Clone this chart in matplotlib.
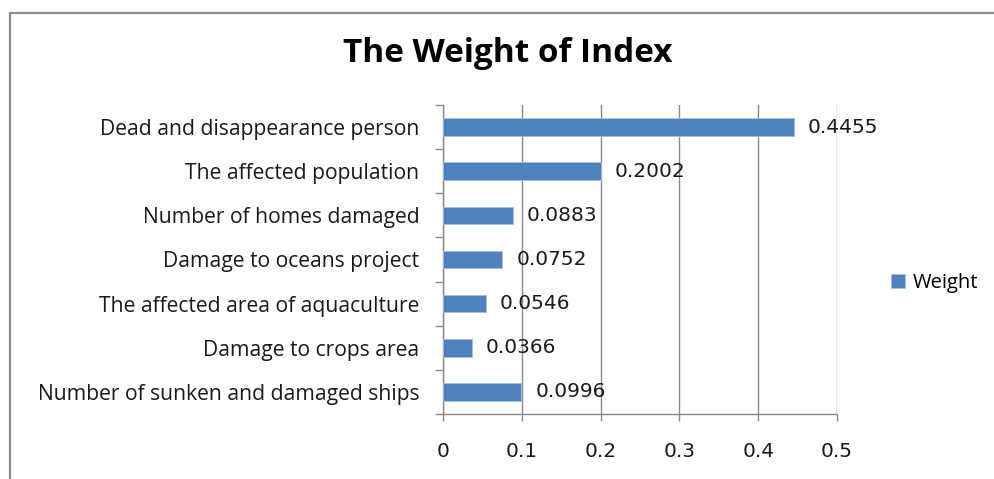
import matplotlib
matplotlib.use("Agg")
import matplotlib.pyplot as plt
from matplotlib.patches import Rectangle
import numpy as np

categories = [
    "Dead and disappearance person",
    "The affected population",
    "Number of homes damaged",
    "Damage to oceans project",
    "The affected area of aquaculture",
    "Damage to crops area",
    "Number of sunken and damaged ships",
]
weights = [0.4455, 0.2002, 0.0883, 0.0752, 0.0546, 0.0366, 0.0996]
labels = ["0.4455", "0.2002", "0.0883", "0.0752", "0.0546", "0.0366", "0.0996"]
xticks = [0, 0.1, 0.2, 0.3, 0.4, 0.5]
xticklabels = ["0", "0.1", "0.2", "0.3", "0.4", "0.5"]
title = "The Weight of Index"
series_name = "Weight"

W, H = 994, 479
fig = plt.figure(figsize=(W / 100, H / 100), dpi=100)
fig.patch.set_facecolor("white")

# outer chart border (extends beyond right/bottom edges)
fig.patches.append(Rectangle((10 / W, -0.1), 1.2, (H - 13) / H + 0.1,
                             transform=fig.transFigure, fill=False,
                             edgecolor="#8c8c8c", linewidth=1.6, zorder=0))

ax = fig.add_axes([443 / W, 1 - 414 / H, 394 / W, 309 / H])
n = len(categories)
ypos = np.arange(n)
bar_color = "#4F81BD"
bars = ax.barh(ypos, weights, height=0.4, color=bar_color, edgecolor="#a9c1e0",
               linewidth=0.6, label=series_name, zorder=3)
ax.set_ylim(n - 0.5, -0.5)
ax.set_xlim(0, 0.5)

grid_c = "#8a8a8a"
txt_c = "#1a1a1a"
for s in ["top", "right"]:
    ax.spines[s].set_visible(False)
for s in ["left", "bottom"]:
    ax.spines[s].set_color(grid_c)
    ax.spines[s].set_linewidth(1.0)

ax.set_xticks(xticks)
ax.set_xticklabels(xticklabels, fontsize=14.5, family="DejaVu Sans", color=txt_c)
ax.tick_params(axis="x", direction="out", length=5.3, width=1.0, color=grid_c, pad=15)
ax.xaxis.grid(True, color=grid_c, linewidth=1.0, zorder=0)
ax.set_axisbelow(True)

ax.set_yticks(ypos)
ax.set_yticklabels(categories, fontsize=15.2, family="Open Sans", color=txt_c)
ax.tick_params(axis="y", which="major", length=0, pad=17)
ax.set_yticks(np.arange(n + 1) - 0.5, minor=True)
ax.tick_params(axis="y", which="minor", length=6, width=1.0, color=grid_c, direction="out")

for b, lab in zip(bars, labels):
    ax.annotate(lab, (b.get_width(), b.get_y() + b.get_height() / 2),
                xytext=(10, 0), textcoords="offset points",
                va="center", ha="left", fontsize=14.5, family="DejaVu Sans",
                color=txt_c, zorder=5)

fig.text(508 / W, 1 - 54 / H, title, ha="center", va="center",
         fontsize=24, fontweight="bold", family="Open Sans", color="black")

fig.legend(handles=[bars], labels=[series_name], loc="center left",
           bbox_to_anchor=(891 / W, 1 - 283 / H), frameon=False,
           prop={"family": "Open Sans", "size": 14.5},
           handlelength=0.7, handleheight=0.7, handletextpad=0.4,
           borderpad=0, borderaxespad=0)

fig.savefig("out.png", dpi=100, facecolor="white")
